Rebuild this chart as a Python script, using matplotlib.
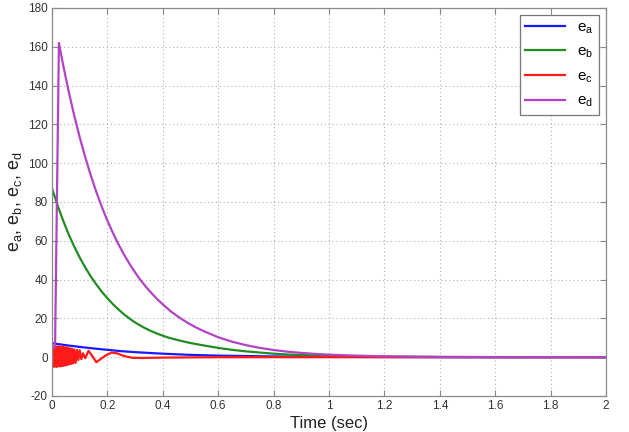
import matplotlib
matplotlib.use("Agg")
import matplotlib.pyplot as plt

plt.rcParams['font.family'] = ['Liberation Sans', 'DejaVu Sans']
plt.rcParams['mathtext.default'] = 'regular'
plt.rcParams['axes.unicode_minus'] = False

# e_a (blue)
t_a = [0, 0.05, 0.1, 0.15, 0.2, 0.25, 0.3, 0.35, 0.4, 0.5, 0.6, 0.7, 0.8, 1.0, 1.2, 1.4, 2.0]
e_a = [7.2, 6.2, 5.3, 4.5, 3.8, 3.1, 2.6, 2.2, 1.8, 1.2, 0.8, 0.6, 0.4, 0.2, 0.1, 0.05, 0.0]

# e_b (green)
t_b = [0, 0.02, 0.04, 0.06, 0.08, 0.10, 0.12, 0.14, 0.16, 0.18, 0.20, 0.22, 0.24,
       0.26, 0.28, 0.30, 0.33, 0.36, 0.39, 0.42, 0.46, 0.50, 0.55, 0.60, 0.65,
       0.70, 0.75, 0.80, 0.85, 0.90, 1.0, 1.1, 1.2, 1.4, 1.6, 2.0]
e_b = [87, 78.3, 70.5, 63.4, 57.1, 51.4, 46.3, 41.6, 37.5, 33.7, 30.4, 27.3, 24.6,
       22.1, 19.9, 17.9, 15.4, 13.3, 11.6, 10.1, 8.6, 7.3, 6.0, 4.8, 3.8,
       3.0, 2.4, 1.8, 1.4, 1.1, 0.7, 0.45, 0.28, 0.1, 0.04, 0.0]

# e_c (red)
t_c = [0.000, 0.003, 0.006, 0.009, 0.012, 0.015, 0.018, 0.021, 0.024, 0.027, 0.030,
       0.033, 0.036, 0.039, 0.042, 0.045, 0.048, 0.051, 0.054, 0.057, 0.060,
       0.064, 0.068, 0.072, 0.076, 0.080, 0.085, 0.090, 0.095, 0.100,
       0.106, 0.112, 0.120, 0.132, 0.146, 0.160, 0.175, 0.195, 0.215, 0.235,
       0.260, 0.290, 0.330, 0.400, 0.600, 1.000, 2.000]
e_c = [-4.5, 5.5, -5.0, 5.8, -4.8, 5.5, -5.0, 5.6, -4.6, 5.4, -4.8,
       5.2, -4.5, 5.5, -4.4, 5.0, -4.2, 5.2, -4.0, 4.8, -3.8,
       4.6, -3.5, 4.4, -3.2, 4.0, -3.0, 3.8, -1.5, 3.6,
       -1.0, 2.0, -0.5, 3.3, 0.5, -2.6, -1.0, 1.0, 2.4, 2.0,
       0.6, -0.3, -0.4, -0.2, 0.0, 0.0, 0.0]

# e_d (purple)
t_d = [0, 0.011, 0.025, 0.04, 0.06, 0.08, 0.10, 0.12, 0.14, 0.16, 0.18, 0.20, 0.22,
       0.24, 0.26, 0.28, 0.30, 0.32, 0.34, 0.36, 0.38, 0.40, 0.43, 0.46, 0.49,
       0.52, 0.55, 0.60, 0.65, 0.70, 0.75, 0.80, 0.85, 0.90, 0.95, 1.0, 1.1,
       1.2, 1.3, 1.4, 1.6, 1.8, 2.0]
e_d = [5, 5, 162, 150.8, 137.1, 124.7, 113.4, 103.1, 93.7, 85.2, 77.4, 70.4, 64.0,
       58.2, 52.9, 48.1, 43.7, 39.7, 36.1, 32.9, 29.9, 27.2, 23.5, 20.4, 17.7,
       15.3, 13.3, 10.3, 8.0, 6.2, 4.8, 3.7, 2.85, 2.2, 1.7, 1.3, 0.78,
       0.47, 0.28, 0.17, 0.06, 0.02, 0.0]

fig = plt.figure(figsize=(6.29, 4.32), dpi=100)
ax = fig.add_axes([52/629, 1-396/432, (606-52)/629, (396-8)/432])

lw = 1.6
ax.plot(t_a, e_a, color='#1a1aff', lw=lw, label='$e_a$')
ax.plot(t_b, e_b, color='#238b23', lw=lw, label='$e_b$')
ax.plot(t_c, e_c, color='#ff1a1a', lw=lw, label='$e_c$')
ax.plot(t_d, e_d, color='#b044c4', lw=lw, label='$e_d$')

ax.set_xlim(0, 2)
ax.set_ylim(-20, 180)
ax.set_xticks([0, 0.2, 0.4, 0.6, 0.8, 1, 1.2, 1.4, 1.6, 1.8, 2])
ax.set_xticklabels(['0', '0.2', '0.4', '0.6', '0.8', '1', '1.2', '1.4', '1.6', '1.8', '2'])
ax.set_yticks(range(-20, 181, 20))

ax.grid(True, linestyle=(0, (1, 2.5)), color='#b0b0b0', lw=0.8)
ax.tick_params(direction='in', top=True, right=True, length=4, color='#888888',
               labelsize=8.5, labelcolor='#333333', pad=3)
for s in ax.spines.values():
    s.set_color('#8a8a8a')
    s.set_linewidth(0.9)

ax.set_xlabel('Time (sec)', fontsize=12, color='#222222', labelpad=3)
ax.set_ylabel('e$_a$, e$_b$, e$_c$, e$_d$', fontsize=13, color='#222222', labelpad=3)

leg = ax.legend(loc='upper right', fontsize=11, fancybox=False, framealpha=1,
                edgecolor='#777777', handlelength=2.6, labelspacing=0.6,
                borderaxespad=0.45, handletextpad=0.8, borderpad=0.35)
leg.get_frame().set_linewidth(0.9)

fig.savefig('out.png', dpi=100)
